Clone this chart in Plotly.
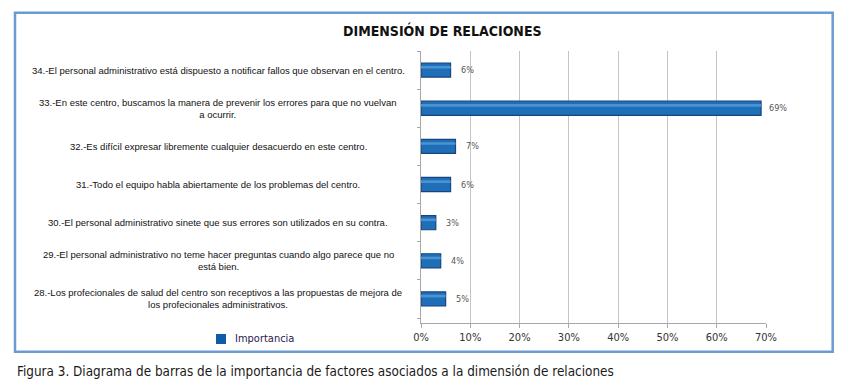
import plotly.graph_objects as go

# ---- data ----
categories = [
    "28.-Los profecionales de salud del centro son receptivos a las propuestas de mejora de<br>los profecionales administrativos.",
    "29.-El personal administrativo no teme hacer preguntas cuando algo parece que no<br>está bien.",
    "30.-El personal administrativo sinete que sus errores son utilizados en su contra.",
    "31.-Todo el equipo habla abiertamente de los problemas del centro.",
    "32.-Es difícil expresar libremente cualquier desacuerdo en este centro.",
    "33.-En este centro, buscamos la manera de prevenir los errores para que no vuelvan<br>a ocurrir.",
    "34.-El personal administrativo está dispuesto a notificar fallos que observan en el centro.",
]
values = [5, 4, 3, 6, 7, 69, 6]
value_labels = ["5%", "4%", "3%", "6%", "7%", "69%", "6%"]
series_name = "Importancia"
tick_vals = [0, 10, 20, 30, 40, 50, 60, 70]
tick_text = ["0%", "10%", "20%", "30%", "40%", "50%", "60%", "70%"]
title_text = "DIMENSIÓN DE RELACIONES"
caption_text = "Figura 3. Diagrama de barras de la importancia de factores asociados a la dimensión de relaciones"

ycats = list(range(len(categories)))
BAR_COLOR = "#1f6eb8"

fig = go.Figure()
fig.add_trace(go.Bar(
    x=values, y=ycats, orientation="h", name=series_name,
    width=0.37,
    marker=dict(color=BAR_COLOR, line=dict(color="#17457c", width=1.2)),
    showlegend=False,
))
# highlight stripe to mimic the cylinder shading
fig.add_trace(go.Bar(
    x=values, y=ycats, orientation="h", name="hl",
    width=0.07, offset=0.04,
    marker=dict(color="#4a93d2", line=dict(width=0)),
    showlegend=False, hoverinfo="skip",
))

annotations = []
for yi, (v, lab) in enumerate(zip(values, value_labels)):
    annotations.append(dict(
        x=v, y=yi, xref="x", yref="y", text=lab, showarrow=False,
        xanchor="center", xshift=17,
        font=dict(family="DejaVu Sans Condensed", size=9, color="#555555"),
    ))
for yi, cat in enumerate(categories):
    annotations.append(dict(
        x=-0.588, y=yi, xref="paper", yref="y", text=cat, showarrow=False,
        xanchor="center", yanchor="middle", align="center",
        font=dict(family="Liberation Sans, Arial", size=9.5, color="#111111"),
    ))
annotations.append(dict(
    x=0.061, y=1.077, xref="paper", yref="paper", text="<b>" + title_text + "</b>",
    showarrow=False, xanchor="center", yanchor="middle",
    font=dict(family="DejaVu Sans Condensed", size=14, color="#111111"),
))
annotations.append(dict(
    x=-1.1768, y=-0.180, xref="paper", yref="paper", text=caption_text,
    showarrow=False, xanchor="left", yanchor="middle",
    font=dict(family="DejaVu Sans Condensed", size=13.4, color="#1a1a1a"),
))
# manual legend text
annotations.append(dict(
    x=-0.5449, y=-0.0588, xref="paper", yref="paper", text=series_name,
    showarrow=False, xanchor="left", yanchor="middle",
    font=dict(family="DejaVu Sans Condensed", size=11, color="#2a2050"),
))

shapes = [
    dict(
        type="rect", xref="paper", yref="paper",
        x0=-1.1768, x1=1.1933, y0=-0.1055, y1=1.1408,
        line=dict(color="#6a9bd1", width=2.5), fillcolor="rgba(0,0,0,0)",
        layer="below",
    ),
    # legend swatch
    dict(
        type="rect", xref="paper", yref="paper",
        x0=-0.5942, x1=-0.5652, y0=-0.0772, y1=-0.0404,
        line=dict(width=0), fillcolor="#0d5caa",
    ),
]

fig.update_layout(
    width=846, height=391,
    margin=dict(l=421, r=80, t=51, b=68),
    paper_bgcolor="white", plot_bgcolor="white",
    barmode="overlay",
    annotations=annotations,
    shapes=shapes,
    showlegend=False,
    xaxis=dict(
        range=[0, 70], tickvals=tick_vals, ticktext=tick_text,
        showgrid=True, gridcolor="#c4c4c4", gridwidth=1,
        showline=True, linecolor="#a8a8a8", linewidth=1,
        ticks="outside", ticklen=4, tickcolor="#a8a8a8",
        tickfont=dict(family="DejaVu Sans Condensed", size=11, color="#333333"),
        zeroline=False, fixedrange=True,
    ),
    yaxis=dict(
        range=[-0.63, 6.5], showticklabels=False, showgrid=False,
        showline=True, linecolor="#a8a8a8", linewidth=1,
        ticks="outside", ticklen=3, tickcolor="#a8a8a8",
        tickvals=[i - 0.5 for i in ycats] + [6.5],
        zeroline=False, fixedrange=True,
    ),
)

fig.write_html(
    "out.html",
    config={"displayModeBar": False},
    post_script="document.body.style.margin='0';document.body.style.overflow='hidden';",
)
